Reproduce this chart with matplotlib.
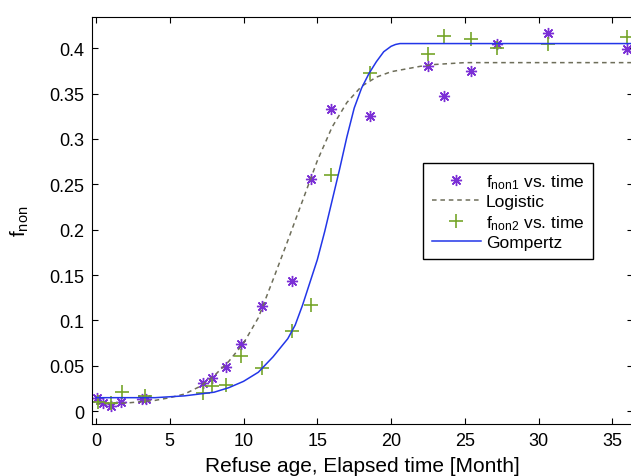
import matplotlib
matplotlib.use("Agg")
import matplotlib.pyplot as plt
from matplotlib.ticker import FormatStrFormatter

plt.rcParams['font.family'] = ['Liberation Sans', 'DejaVu Sans']
plt.rcParams['mathtext.default'] = 'regular'

# measured points
t1 = [0.1, 0.5, 1.0, 1.7, 3.1, 3.4, 7.25, 7.85, 8.8, 9.85, 11.25, 13.3,
      14.55, 15.95, 18.6, 22.5, 23.6, 25.4, 27.2, 30.65, 36.0]
fnon1 = [0.015, 0.009, 0.006, 0.010, 0.014, 0.013, 0.031, 0.037, 0.049, 0.074, 0.116, 0.143,
         0.256, 0.333, 0.325, 0.380, 0.347, 0.375, 0.405, 0.4166, 0.399]

t2 = [0.15, 1.0, 1.75, 3.3, 7.25, 7.85, 8.8, 9.85, 11.25, 13.3,
      14.6, 15.95, 18.6, 22.5, 23.6, 25.4, 27.2, 30.65, 36.0]
fnon2 = [0.010, 0.009, 0.0216, 0.017, 0.020, 0.0275, 0.029, 0.0606, 0.0477, 0.088,
         0.117, 0.260, 0.3725, 0.394, 0.4137, 0.410, 0.400, 0.404, 0.412]

# fitted curves
t_log = [0, 2, 4, 5, 6, 7, 8, 9, 10, 11, 12, 13, 14, 15, 16, 17, 18, 19, 20, 21, 22, 23, 25, 28, 36.5]
f_log = [0.008, 0.009, 0.012, 0.015, 0.019, 0.027, 0.039, 0.055, 0.075, 0.103, 0.145, 0.188,
         0.232, 0.276, 0.313, 0.340, 0.358, 0.368, 0.374, 0.377, 0.380, 0.382, 0.384, 0.384, 0.384]

t_gom = [0, 4, 6, 7, 8, 9, 10, 11, 12, 13, 13.5, 14, 14.5, 15, 15.5, 16, 16.5, 17, 17.5,
         18, 18.5, 19, 19.5, 20, 20.3, 20.6, 36.5]
f_gom = [0.015, 0.015, 0.017, 0.019, 0.021, 0.026, 0.033, 0.043, 0.060, 0.080, 0.095, 0.117,
         0.142, 0.167, 0.198, 0.232, 0.266, 0.302, 0.334, 0.356, 0.372, 0.385, 0.396, 0.402,
         0.404, 0.405, 0.405]

fig = plt.figure(figsize=(6.31, 4.77), dpi=100)
ax = fig.add_axes([0.1463, 0.109, 0.857, 0.8543])

ax.plot(t1, fnon1, linestyle='none', marker=(8, 2, 0), markersize=8, mew=1.0,
        color='#7b2fd6', label=r'f$_{non1}$ vs. time')
ax.plot(t_log, f_log, linestyle='--', dashes=(3, 2.5), color='#6e6e5a', lw=1.1, label='Logistic')
ax.plot(t2, fnon2, linestyle='none', marker='+', markersize=10, mew=1.2,
        color='#76a52a', label=r'f$_{non2}$ vs. time')
ax.plot(t_gom, f_gom, color='#2236e8', lw=1.1, label='Gompertz')

ax.set_xlim(-0.25, 36.4)
ax.set_ylim(-0.014, 0.4348)
ax.set_xticks([0, 5, 10, 15, 20, 25, 30, 35])
ax.set_yticks([0, 0.05, 0.1, 0.15, 0.2, 0.25, 0.3, 0.35, 0.4])
ax.yaxis.set_major_formatter(FormatStrFormatter('%g'))
ax.tick_params(direction='in', top=True, right=True, length=4, width=0.8, labelsize=13, pad=6)

ax.set_xlabel('Refuse age, Elapsed time [Month]', fontsize=15, labelpad=5)
ax.set_ylabel(r'f$_{non}$', fontsize=15, labelpad=13)

leg = ax.legend(loc='upper left', bbox_to_anchor=(0.596, 0.661), fontsize=12.5,
                frameon=True, fancybox=False, edgecolor='black', framealpha=1,
                handlelength=2.8, handletextpad=0.3, labelspacing=0.2, borderpad=0.5)
leg.get_frame().set_linewidth(1.0)

fig.savefig('out.png', dpi=100)
